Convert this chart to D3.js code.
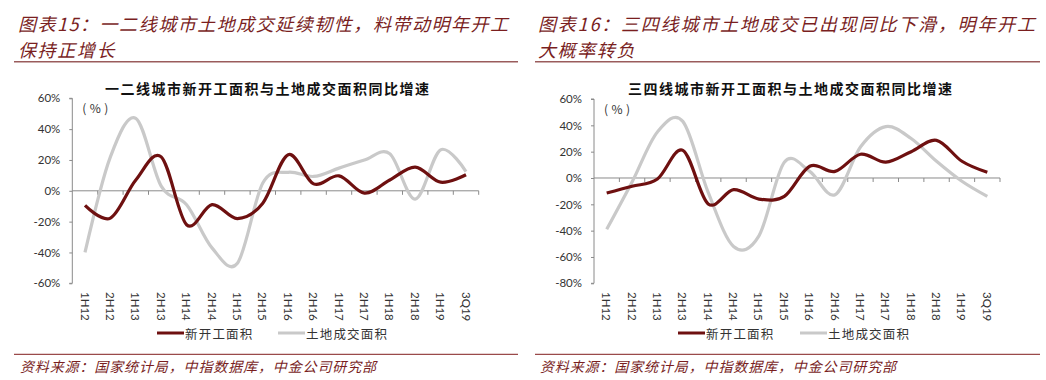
<!DOCTYPE html>
<html><head><meta charset="utf-8">
<script src="https://cdn.jsdelivr.net/npm/d3@7"></script>
<style>body{margin:0;background:#fff}svg{display:block}</style>
</head><body>
<svg id="c" width="1046" height="380"></svg>
<script>
const categories = ["1H12","2H12","1H13","2H13","1H14","2H14","1H15","2H15","1H16","2H16","1H17","2H17","1H18","2H18","1H19","3Q19"];
const tier12Starts = [-9.5,-17.7,7,22,-22,-9,-18,-8,23.4,4.5,9.7,-1.5,7,15.4,5.6,10.4];
const tier12Land   = [-40,22,47,3,-9,-37,-47,5,12,9.3,14.7,20,24,-5.4,26.6,12.5];
const tier34Starts = [-11.4,-6.3,-0.8,21,-19.7,-8.9,-16,-14,8.9,5,18,12,20,28.6,12.7,4.3];
const tier34Land   = [-39,-3,35,43,-11,-52,-44,12,5,-12.7,23.5,39,30,12.7,-2.5,-14];
const yTicks12 = [-60,-40,-20,0,20,40,60];
const yTicks34 = [-80,-60,-40,-20,0,20,40,60];
const seriesNames = ["新开工面积","土地成交面积"];
const headTitles = [["图表15：一二线城市土地成交延续韧性，料带动明年开工","保持正增长"],["图表16：三四线城市土地成交已出现同比下滑，明年开工","大概率转负"]];
const chartTitles = ["一二线城市新开工面积与土地成交面积同比增速","三四线城市新开工面积与土地成交面积同比增速"];
const sourceText = "资料来源：国家统计局，中指数据库，中金公司研究部";

const RED = "#6e1010", GRAY = "#c9c9c9", AX = "#8a8a8a", BROWN = "#7a1f1f";
const svg = d3.select("#c");
const cjk = "'Noto Sans CJK SC', sans-serif";
const lat = "Lato, 'Open Sans', sans-serif";

function panel(o) {
  const g = svg.append("g");
  g.append("text").attr("x", o.hx).attr("y", 31).attr("font-family", cjk).attr("font-size", 18)
    .attr("font-style","italic").attr("fill", BROWN).attr("textLength", o.hw).attr("lengthAdjust","spacing")
    .text(o.head[0]);
  g.append("text").attr("x", o.hx).attr("y", 57).attr("font-family", cjk).attr("font-size", 18)
    .attr("font-style","italic").attr("fill", BROWN).attr("letter-spacing", 1.6).text(o.head[1]);
  g.append("line").attr("x1", o.rule[0]).attr("x2", o.rule[1]).attr("y1", 61.7).attr("y2", 61.7)
    .attr("stroke", "#9a5c5c").attr("stroke-width", 1.4);
  g.append("line").attr("x1", o.rule[0]).attr("x2", o.rule[1]).attr("y1", 354.3).attr("y2", 354.3)
    .attr("stroke", "#9a4a4a").attr("stroke-width", 1.2);
  g.append("text").attr("x", o.hx + 2).attr("y", 372).attr("font-family", cjk).attr("font-size", 14)
    .attr("font-style","italic").attr("fill", BROWN).attr("textLength", 356).attr("lengthAdjust","spacing")
    .text(sourceText);

  const x = d3.scaleBand().domain(categories).range([o.x0, o.x1]).padding(0);
  const y = d3.scaleLinear().domain(o.domain).range([o.yBot, o.yTop]);

  g.append("text").attr("x", o.tcx).attr("y", 94).attr("text-anchor","middle").attr("font-family", cjk)
    .attr("font-size", 14).attr("font-weight","bold").attr("fill","#111").attr("textLength", 324)
    .attr("lengthAdjust","spacing").text(o.title);
  g.append("text").attr("x", o.x0 + 10).attr("y", o.yTop + 15).attr("font-family", cjk).attr("font-size", 12)
    .attr("fill","#333").attr("textLength", 26).attr("lengthAdjust","spacing").text("( % )");

  const ya = d3.axisLeft(y).tickValues(o.yTicks).tickSize(3).tickPadding(9).tickFormat(d => d + "%");
  const yg = g.append("g").attr("transform", `translate(${o.x0},0)`).call(ya);
  yg.select(".domain").attr("stroke", AX).attr("d", `M-3,${o.yTop}H0V${o.yBot}H-3`);
  yg.selectAll(".tick line").attr("stroke", AX);
  yg.selectAll(".tick text").attr("font-family", lat).attr("font-size", 11.5).attr("fill", "#333");

  const bounds = categories.map(c => x(c)).concat([o.x1]);
  g.append("line").attr("x1", o.x0).attr("x2", o.x1).attr("y1", y(0)).attr("y2", y(0)).attr("stroke", AX);
  g.selectAll(".xt").data(bounds.slice(1)).enter().append("line")
    .attr("x1", d => d).attr("x2", d => d).attr("y1", y(0)).attr("y2", y(0) + 4).attr("stroke", AX);
  g.selectAll(".xl").data(categories).enter().append("text")
    .attr("transform", d => `translate(${x(d) + x.bandwidth()/2},292) rotate(90)`)
    .attr("dominant-baseline","central").attr("font-family", lat).attr("font-size", 11.5).attr("fill","#333")
    .text(d => d);

  const line = d3.line().x((d, i) => x(categories[i]) + x.bandwidth()/2).y(d => y(d))
    .curve(d3.curveCardinal.tension(0));
  g.append("path").datum(o.land).attr("d", line).attr("fill","none").attr("stroke", GRAY)
    .attr("stroke-width", 3.2).attr("stroke-linejoin","round");
  g.append("path").datum(o.starts).attr("d", line).attr("fill","none").attr("stroke", RED)
    .attr("stroke-width", 3.2).attr("stroke-linejoin","round");

  const lg = g.append("g");
  [[o.leg[0], RED, seriesNames[0]], [o.leg[1], GRAY, seriesNames[1]]].forEach(([lx, col, nm]) => {
    lg.append("line").attr("x1", lx).attr("x2", lx + 27).attr("y1", 333).attr("y2", 333)
      .attr("stroke", col).attr("stroke-width", 3);
    lg.append("text").attr("x", lx + 28).attr("y", 333).attr("dominant-baseline","central")
      .attr("font-family", cjk).attr("font-size", 12.5).attr("fill","#333").attr("letter-spacing", 1.2).text(nm);
  });
}

panel({hx:18, hw:490, rule:[14,518], head:headTitles[0], title:chartTitles[0], tcx:267,
  x0:72.3, x1:478.7, yTop:98.3, yBot:283.3, domain:[-60,60], yTicks:yTicks12,
  starts:tier12Starts, land:tier12Land, leg:[157,278]});
panel({hx:538, hw:497, rule:[535,1040], head:headTitles[1], title:chartTitles[1], tcx:790,
  x0:594, x1:1000, yTop:99, yBot:283.3, domain:[-80,60], yTicks:yTicks34,
  starts:tier34Starts, land:tier34Land, leg:[678,800]});
</script>
</body></html>
